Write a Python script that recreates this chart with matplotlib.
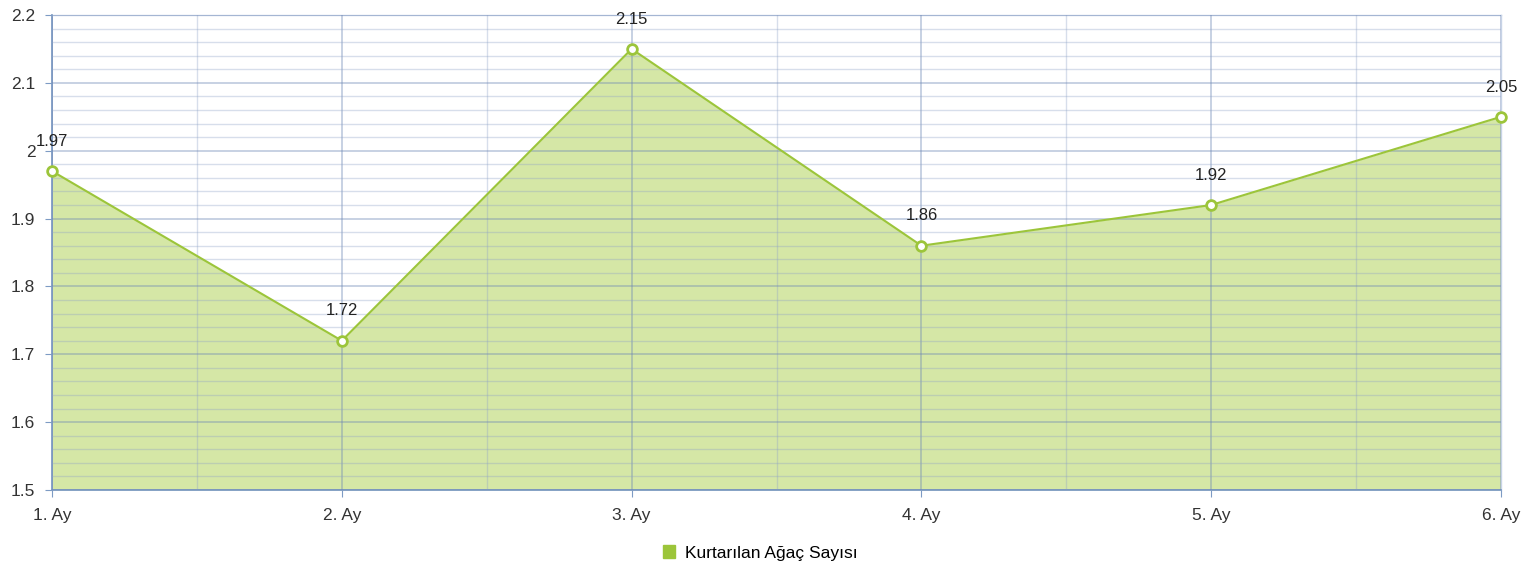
import matplotlib.pyplot as plt
import numpy as np
from matplotlib.ticker import MultipleLocator
from matplotlib.patches import Patch

plt.rcParams['font.family'] = ['Liberation Sans', 'DejaVu Sans']

months = ["1. Ay", "2. Ay", "3. Ay", "4. Ay", "5. Ay", "6. Ay"]
values = [1.97, 1.72, 2.15, 1.86, 1.92, 2.05]
series_name = "Kurtarılan Ağaç Sayısı"

line_c = "#9cc53a"
fill_c = "#d5e7a6"

fig = plt.figure(figsize=(15.21, 5.67), dpi=100)
ax = fig.add_axes([52/1521, 1 - 490/567, (1501-52)/1521, (490-15)/567])

x = np.arange(len(months))
ax.fill_between(x, 1.5, values, color=fill_c, zorder=1, linewidth=0)
ax.plot(x, values, color=line_c, lw=1.5, zorder=3, marker='o', ms=7,
        mfc='white', mec=line_c, mew=2, clip_on=False)

for xi, v in zip(x, values):
    ax.annotate(f"{v:g}", (xi, v), xytext=(0, 16), textcoords='offset points',
                ha='center', va='bottom', fontsize=12, color='#222222')

ax.set_xlim(0, len(months) - 1)
ax.set_ylim(1.5, 2.2)
ax.set_xticks(x)
ax.set_xticklabels(months)
ax.xaxis.set_minor_locator(MultipleLocator(0.5))
yt = np.round(np.arange(1.5, 2.21, 0.1), 1)
ax.set_yticks(yt)
ax.set_yticklabels([f"{t:g}" for t in yt])
ax.yaxis.set_minor_locator(MultipleLocator(0.02))

ax.grid(which='major', color='#6f88b5', alpha=0.45, lw=1.2)
ax.grid(which='minor', color='#8ea2c6', alpha=0.35, lw=1)
for art in ax.get_xgridlines() + ax.get_ygridlines():
    art.set_zorder(2)
for art in ax.xaxis.get_minorticklines() + ax.yaxis.get_minorticklines():
    art.set_zorder(2)
ax.set_axisbelow(False)

for s in ['left', 'bottom']:
    ax.spines[s].set_color('#7d9bc4')
    ax.spines[s].set_linewidth(1.3)
for s in ['top', 'right']:
    ax.spines[s].set_color('#c7d3e6')
    ax.spines[s].set_linewidth(1)

ax.tick_params(which='major', length=5, color='#7d9bc4', labelsize=12.5,
               labelcolor='#333333')
ax.tick_params(which='minor', length=0)
ax.tick_params(axis='x', pad=8)
ax.tick_params(axis='y', pad=7)

fig.legend(handles=[Patch(color='#9cc53a', label=series_name)],
           loc='center', bbox_to_anchor=(0.5, 1 - 553/567), frameon=False,
           fontsize=12.5, handlelength=0.7, handleheight=0.7, handletextpad=0.6)

fig.savefig("out.png", dpi=100)
